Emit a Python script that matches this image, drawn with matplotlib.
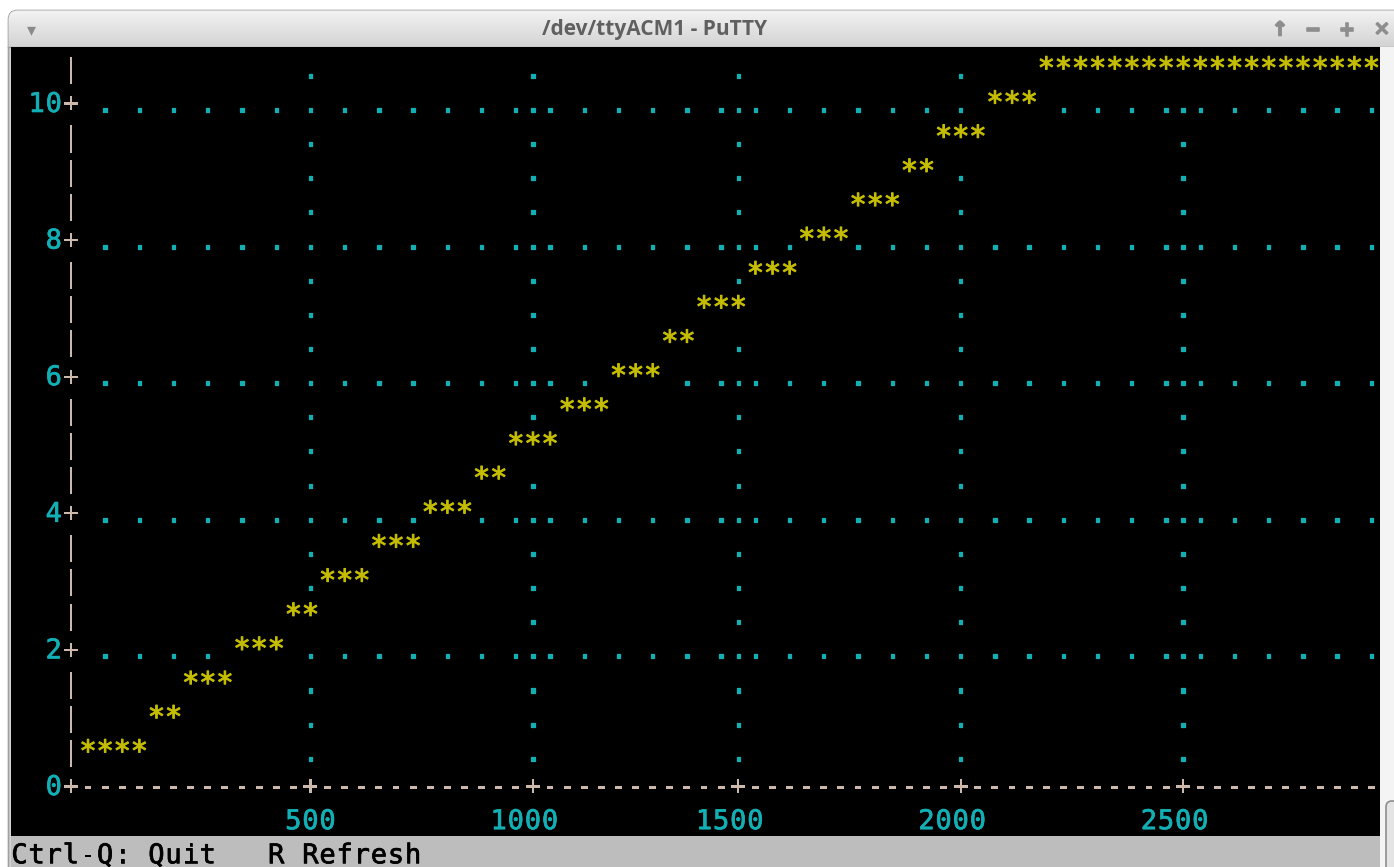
import matplotlib.pyplot as plt
import matplotlib.patheffects as pe
from matplotlib.patches import FancyBboxPatch, Rectangle
from matplotlib.colors import LinearSegmentedColormap
import numpy as np

# one sample per terminal column (x), quantised reading (y)
x_values = [0, 39, 78, 117, 156, 195, 234, 273, 312, 351, 390, 429, 468, 507,
            546, 585, 624, 663, 702, 741, 780, 819, 858, 897, 936, 975, 1014,
            1053, 1092, 1131, 1170, 1209, 1248, 1287, 1326, 1365, 1404, 1443,
            1482, 1521, 1560, 1599, 1638, 1677, 1716, 1755, 1794, 1833, 1872,
            1911, 1950, 1989, 2028, 2067, 2106, 2145, 2184, 2223, 2262, 2301,
            2340, 2379, 2418, 2457, 2496, 2535, 2574, 2613, 2652, 2691, 2730,
            2769, 2808, 2847, 2886, 2925]
y_values = [0.5, 0.5, 0.5, 0.5, 1.0, 1.0, 1.5, 1.5, 1.5, 2.0, 2.0, 2.0, 2.5, 2.5,
            3.0, 3.0, 3.0, 3.5, 3.5, 3.5, 4.0, 4.0, 4.0, 4.5, 4.5, 5.0, 5.0,
            5.0, 5.5, 5.5, 5.5, 6.0, 6.0, 6.0, 6.5, 6.5, 7.0, 7.0, 7.0, 7.5,
            7.5, 7.5, 8.0, 8.0, 8.0, 8.5, 8.5, 8.5, 9.0, 9.0, 9.5, 9.5, 9.5,
            10.0, 10.0, 10.0, 10.5, 10.5, 10.5, 10.5, 10.5, 10.5, 10.5, 10.5,
            10.5, 10.5, 10.5, 10.5, 10.5, 10.5, 10.5, 10.5, 10.5, 10.5, 10.5,
            10.5]
x_ticks = [500, 1000, 1500, 2000, 2500]
y_ticks = [0, 2, 4, 6, 8, 10]
status_text = "Ctrl-Q: Quit   R Refresh"
window_title = "/dev/ttyACM1 - PuTTY"

# terminal character grid
X0 = -40          # x value of the axis column
COL_W = 39        # x units per character column
ROW_H = 0.5       # y units per character row
FIRST_COL, LAST_COL = -3, 76
TOP_ROW = 21      # 10.5 / 0.5
BASE = 0.146      # baseline offset below row centre

CYAN = '#12b0b5'
YELLOW = '#c4bd00'
AXIS = '#cdb9ac'
MONO = 'DejaVu Sans Mono'
FS = 19.5

W, H = 1394, 867
fig = plt.figure(figsize=(W / 100, H / 100), dpi=100, facecolor='white')

# window chrome
bg = fig.add_axes([0, 0, 1, 1])
bg.set_xlim(0, W)
bg.set_ylim(H, 0)
bg.axis('off')
frame = FancyBboxPatch((8.5, 10.5), 1420, 900, boxstyle='round,pad=0,rounding_size=9',
                       fc='#d4d4d4', ec='#a0a0a0', lw=1.2)
bg.add_patch(frame)
grad = np.linspace(0, 1, 64).reshape(-1, 1)
cm = LinearSegmentedColormap.from_list('bar', ['#f3f3f3', '#d3d3d3'])
im = bg.imshow(grad, cmap=cm, extent=(8, W, 47, 10), aspect='auto', zorder=2)
im.set_clip_path(frame)
bg.plot([8, W], [47, 47], color='#9c9c9c', lw=1, zorder=3)
bg.text(655, 30, window_title, ha='center', va='center', fontsize=15,
        family='Open Sans', weight='bold', color='#606060', zorder=4)
bg.text(31, 30, '\u25be', ha='center', va='center', fontsize=13, color='#8a8a8a', zorder=4)
for px, ch in [(1280, '\u2191'), (1313, '\u2212'), (1347, '+'), (1382, '\u2715')]:
    bg.text(px, 30, ch, ha='center', va='center', fontsize=14, weight='bold',
            color='#8e8e8e', zorder=4,
            path_effects=[pe.withStroke(linewidth=1.2, foreground='#8e8e8e')])
bg.add_patch(Rectangle((1380, 47), 20, 830, fc='#f4f4f4', ec='none', zorder=3))
bg.add_patch(FancyBboxPatch((1386, 801), 30, 90, boxstyle='round,pad=0,rounding_size=6',
                            fc='#e4e4e4', ec='#8e8e8e', lw=1.2, zorder=4))

# terminal area
left_px, right_px, top_px = 11, 1380, 47
ax = fig.add_axes([left_px / W, 0, (right_px - left_px) / W, (H - top_px) / H])
ax.set_facecolor('black')
ax.set_xticks([])
ax.set_yticks([])
for s in ax.spines.values():
    s.set_visible(False)
ax.set_xlim(X0 + (FIRST_COL - 0.5) * COL_W, X0 + (LAST_COL + 0.5) * COL_W)
px_per_unit = 68.3
ax.set_ylim(-(H - 785) / px_per_unit, (785 - top_px) / px_per_unit)
ax.axhspan(-2, -0.74, color='#bdbdbd', lw=0)

cells = {}


def col_of(v):
    return int(round((v - X0) / COL_W))


def put(col, row, ch, color):
    cells[(col, row)] = (ch, color)


def put_str(col, row, s, color):
    for i, ch in enumerate(s):
        if ch != ' ':
            put(col + i, row, ch, color)


# grid: dotted rows at y ticks, dotted columns at x ticks
for yt in y_ticks[1:]:
    for c in range(2, LAST_COL + 1, 2):
        put(c, int(yt / ROW_H), '.', CYAN)
for xt in x_ticks:
    for r in range(1, TOP_ROW + 1):
        put(col_of(xt), r, '.', CYAN)

# y axis
for r in range(1, TOP_ROW + 1):
    put(0, r, '|', AXIS)
for yt in y_ticks:
    r = int(yt / ROW_H)
    put(0, r, '+', AXIS)
    lab = str(yt)
    put_str(-len(lab), r, lab, CYAN)

# x axis
for c in range(1, LAST_COL + 1):
    put(c, 0, '-', AXIS)
for xt in x_ticks:
    c = col_of(xt)
    put(c, 0, '+', AXIS)
    lab = str(xt)
    put_str(c - len(lab) // 2, -1, lab, CYAN)

# data
for xv, yv in zip(x_values, y_values):
    put(col_of(xv), int(round(yv / ROW_H)), '*', YELLOW)

# status line
put_str(FIRST_COL, -2, status_text, 'black')

for (c, r), (ch, color) in cells.items():
    size = FS + 1.5 if ch == '*' else FS
    lw = {'*': 0.7, '.': 0.9, '|': 0.0, '-': 0.0, '+': 0.0}.get(ch, 0.5)
    ax.text(X0 + c * COL_W, r * ROW_H - BASE, ch, ha='center', va='baseline',
            family=MONO, fontsize=size, color=color,
            path_effects=[pe.withStroke(linewidth=lw, foreground=color)])

fig.savefig('out.png', dpi=100, facecolor='white')
